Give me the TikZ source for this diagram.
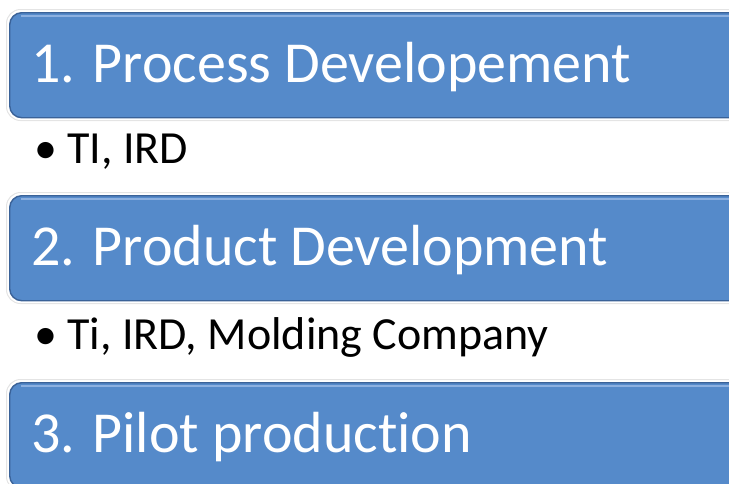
\documentclass[tikz,border=0pt]{standalone}
\usepackage{fontspec}
\setmainfont[Ligatures=NoCommon]{Carlito}
\usetikzlibrary{positioning}
\definecolor{stageblue}{RGB}{85,138,202}
\definecolor{stageedge}{RGB}{58,98,152}
\definecolor{stagehigh}{RGB}{140,176,224}
\definecolor{stageglow}{RGB}{228,228,228}
\tikzset{
  stagebox/.style={draw=stageedge, line width=1.4pt, fill=stageblue, rounded corners=12pt,
    minimum width=780pt, minimum height=105pt, anchor=north west, inner sep=0pt},
  stageglow/.style={draw=stageglow, line width=1pt, fill=white, rounded corners=14pt,
    minimum width=790pt, minimum height=111pt, anchor=north west, inner sep=0pt},
  stagetext/.style={anchor=base west, text=white, inner sep=0pt, font=\fontsize{58}{70}\selectfont},
  itemtext/.style={anchor=base west, inner sep=0pt, font=\fontsize{46}{55}\selectfont},
}

\begin{document}
\begin{tikzpicture}[x=1pt,y=-1pt]
  \pgfmathsetmacro{\BoxLeft}{9}
  \pgfmathsetmacro{\TextLeft}{31}
  \pgfmathsetmacro{\ItemLeft}{34}
  \useasboundingbox (0,0) rectangle (729,483);
  \clip (0,0) rectangle (729,483);
  % GLOW
  \node[stageglow] (glow1) at (\BoxLeft-3,9) {};
  \node[stageglow] (glow2) at (\BoxLeft-3,192) {};
  \node[stageglow] (glow3) at (\BoxLeft-3,379) {};
  % BOXES
  \node[stagebox] (box1) at (\BoxLeft,12) {};
  \node[stagebox] (box2) at (\BoxLeft,195) {};
  \node[stagebox] (box3) at (\BoxLeft,382) {};
  \draw[stagehigh, line width=2pt] ([xshift=12pt,yshift=-3.5pt]box1.north west) -- ([yshift=-3.5pt]box1.north east);
  \draw[stagehigh, line width=2pt] ([xshift=12pt,yshift=-3.5pt]box2.north west) -- ([yshift=-3.5pt]box2.north east);
  \draw[stagehigh, line width=2pt] ([xshift=12pt,yshift=-3.5pt]box3.north west) -- ([yshift=-3.5pt]box3.north east);
  % TITLES
  \node[stagetext] (title1) at (\TextLeft,82) {1. Process Developement};
  \node[stagetext] (title2) at (\TextLeft,265) {2. Product Development};
  \node[stagetext] (title3) at (\TextLeft,452) {3. Pilot production};
  % ITEMS
  \node[itemtext] (item1) at (\ItemLeft,163) {\textbullet\ TI, IRD};
  \node[itemtext] (item2) at (\ItemLeft,349) {\textbullet\ Ti, IRD, Molding Company};
\end{tikzpicture}
\end{document}
